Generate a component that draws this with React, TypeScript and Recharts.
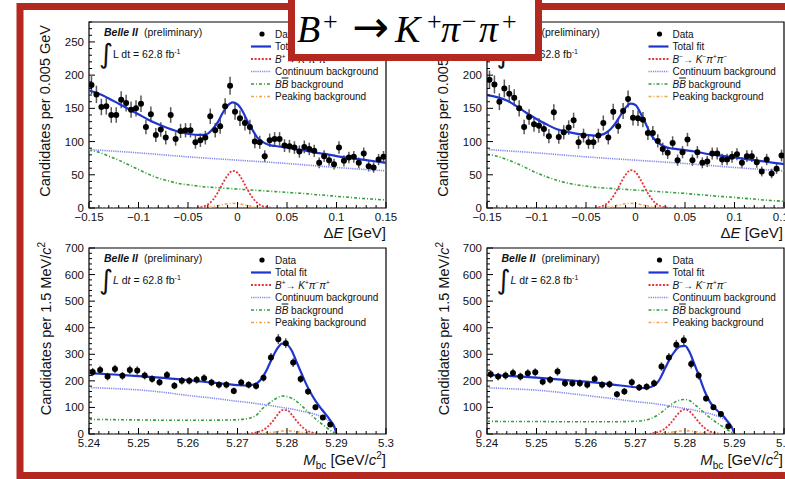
import React from 'react';
import { ComposedChart, Line, Scatter, XAxis, YAxis, ErrorBar, ReferenceArea } from 'recharts';

const FONT = '"Liberation Sans", Arial, Helvetica, sans-serif';
const SERIF = '"Liberation Serif", "Times New Roman", serif';
const RED = '#b3281f';

// ---------- axis tick labels ----------
const dEMajor = [-0.15, -0.1, -0.05, 0, 0.05, 0.1, 0.15];
const dELabels = ['\u22120.15', '\u22120.1', '\u22120.05', '0', '0.05', '0.1', '0.15'];
const mbcMajor = [5.24, 5.25, 5.26, 5.27, 5.28, 5.29, 5.3];
const mbcLabels = ['5.24', '5.25', '5.26', '5.27', '5.28', '5.29', '5.3'];
const topYMajor = [0, 50, 100, 150, 200, 250];
const topYLabels = ['0', '50', '100', '150', '200', '250'];
const botYMajor = [0, 100, 200, 300, 400, 500, 600, 700];
const botYLabels = ['0', '100', '200', '300', '400', '500', '600', '700'];

// ---------- histogram bin centres ----------
const dEBins = [
  -0.1475, -0.1425, -0.1375, -0.1325, -0.1275, -0.1225, -0.1175, -0.1125, -0.1075, -0.1025,
  -0.0975, -0.0925, -0.0875, -0.0825, -0.0775, -0.0725, -0.0675, -0.0625, -0.0575, -0.0525,
  -0.0475, -0.0425, -0.0375, -0.0325, -0.0275, -0.0225, -0.0175, -0.0125, -0.0075, -0.0025,
  0.0025, 0.0075, 0.0125, 0.0175, 0.0225, 0.0275, 0.0325, 0.0375, 0.0425, 0.0475,
  0.0525, 0.0575, 0.0625, 0.0675, 0.0725, 0.0775, 0.0825, 0.0875, 0.0925, 0.0975,
  0.1025, 0.1075, 0.1125, 0.1175, 0.1225, 0.1275, 0.1325, 0.1375, 0.1425, 0.1475,
];
const mbcBins = [
  5.24075, 5.24225, 5.24375, 5.24525, 5.24675, 5.24825, 5.24975, 5.25125, 5.25275, 5.25425,
  5.25575, 5.25725, 5.25875, 5.26025, 5.26175, 5.26325, 5.26475, 5.26625, 5.26775, 5.26925,
  5.27075, 5.27225, 5.27375, 5.27525, 5.27675, 5.27825, 5.27975, 5.28125, 5.28275, 5.28425,
  5.28575, 5.28725, 5.28875,
];

// ---------- data: counts and errors ----------
const p1Counts = [
  185, 171, 152, 153, 140, 140, 163, 158, 148, 150,
  157, 122, 141, 110, 118, 106, 140, 104, 116, 117,
  117, 99, 102, 106, 138, 117, 123, 153, 184, 145,
  135, 128, 122, 100, 99, 78, 102, 104, 104, 94,
  93, 91, 85, 92, 89, 86, 68, 78, 72, 66,
  91, 71, 76, 77, 68, 82, 63, 61, 73, 77,
];
const p1Errs = [
  13.6, 13.1, 12.3, 12.4, 11.8, 11.8, 12.8, 12.6, 12.2, 12.2,
  12.5, 11.0, 11.9, 10.5, 10.9, 10.3, 11.8, 10.2, 10.8, 10.8,
  10.8, 9.9, 10.1, 10.3, 11.7, 10.8, 11.1, 12.4, 13.6, 12.0,
  11.6, 11.3, 11.0, 10.0, 9.9, 8.8, 10.1, 10.2, 10.2, 9.7,
  9.6, 9.5, 9.2, 9.6, 9.4, 9.3, 8.2, 8.8, 8.5, 8.1,
  9.5, 8.4, 8.7, 8.8, 8.2, 9.1, 7.9, 7.8, 8.5, 8.8,
];
const p2Counts = [
  193, 186, 160, 180, 172, 166, 150, 122, 137, 126,
  124, 119, 108, 144, 107, 114, 121, 132, 99, 109,
  99, 99, 109, 128, 106, 145, 123, 146, 164, 136,
  135, 133, 113, 113, 101, 89, 83, 98, 72, 84,
  103, 72, 84, 68, 70, 82, 82, 73, 73, 77,
  81, 68, 78, 78, 69, 55, 73, 52, 59, 79,
];
const p2Errs = [
  13.9, 13.6, 12.6, 13.4, 13.1, 12.9, 12.2, 11.0, 11.7, 11.2,
  11.1, 10.9, 10.4, 12.0, 10.3, 10.7, 11.0, 11.5, 9.9, 10.4,
  9.9, 9.9, 10.4, 11.3, 10.3, 12.0, 11.1, 12.1, 12.8, 11.7,
  11.6, 11.5, 10.6, 10.6, 10.0, 9.4, 9.1, 9.9, 8.5, 9.2,
  10.1, 8.5, 9.2, 8.2, 8.4, 9.1, 9.1, 8.5, 8.5, 8.8,
  9.0, 8.2, 8.8, 8.8, 8.3, 7.4, 8.5, 7.2, 7.7, 8.9,
];
const p3Counts = [
  233, 241, 216, 245, 219, 241, 239, 220, 207, 195,
  222, 182, 200, 200, 204, 210, 194, 185, 185, 162,
  194, 185, 181, 212, 288, 357, 342, 269, 207, 160,
  101, 62, 36,
];
const p3Errs = [
  15.3, 15.5, 14.7, 15.7, 14.8, 15.5, 15.5, 14.8, 14.4, 14.0,
  14.9, 13.5, 14.1, 14.1, 14.3, 14.5, 13.9, 13.6, 13.6, 12.7,
  13.9, 13.6, 13.5, 14.6, 17.0, 18.9, 18.5, 16.4, 14.4, 12.6,
  10.0, 7.9, 6.0,
];
const p4Counts = [
  225, 216, 220, 230, 216, 229, 232, 197, 204, 235,
  191, 191, 191, 185, 207, 185, 187, 150, 160, 195,
  175, 178, 191, 254, 288, 336, 353, 263, 220, 134,
  101, 75, 29,
];
const p4Errs = [
  15.0, 14.7, 14.8, 15.2, 14.7, 15.1, 15.2, 14.0, 14.3, 15.3,
  13.8, 13.8, 13.8, 13.6, 14.4, 13.6, 13.7, 12.2, 12.6, 14.0,
  13.2, 13.3, 13.8, 15.9, 17.0, 18.3, 18.8, 16.2, 14.8, 11.6,
  10.0, 8.7, 5.4,
];

// ---------- fit curves ----------
const dEGrid = [
  -0.15, -0.14, -0.13, -0.12, -0.11, -0.1, -0.09, -0.08, -0.07, -0.06, -0.05, -0.04,
  -0.035, -0.03, -0.025, -0.02, -0.015, -0.01, -0.005, 0, 0.005, 0.01, 0.015, 0.02, 0.025, 0.03, 0.035,
  0.04, 0.05, 0.06, 0.07, 0.08, 0.09, 0.1, 0.11, 0.12, 0.13, 0.14, 0.15,
];
const dEContGrid = [-0.15, -0.1, -0.05, 0, 0.05, 0.1, 0.15];

const p1Total = [
  177, 172, 165, 157, 149, 141, 133, 126, 120, 115, 112, 110,
  110, 112, 119, 129, 143, 154, 159, 156, 146, 131, 118, 106, 100, 96, 94,
  93, 91, 88, 86, 83, 81, 78, 76, 74, 72, 70, 68,
];
const p1Cont = [88, 83, 77, 72, 67, 61, 56];
const p1BB = [
  87, 84, 78, 72, 65, 58, 51, 45, 41, 37, 35, 33,
  32, 31.5, 31, 30.5, 30, 29.5, 29, 28.5, 28, 27.5, 27, 26.5, 26, 25.5, 25,
  24.5, 23.5, 22.5, 21.5, 20, 19, 17.5, 16.5, 15, 14, 13, 12,
];
const p1Sig = [
  0, 0, 0, 0, 0, 0, 0, 0, 0, 0, 0, 0.6,
  2, 5.4, 12, 23, 37, 49, 56, 53, 42, 28, 16, 7.6, 3, 1, 0.3,
  0.1, 0, 0, 0, 0, 0, 0, 0, 0, 0, 0, 0,
];
const p1Peak = [
  0, 0, 0, 0, 0, 0, 0, 0, 0, 0, 0, 0,
  0.3, 0.8, 1.8, 3.3, 5, 6.4, 7, 6.6, 5.3, 3.7, 2.2, 1.1, 0.5, 0.2, 0.1,
  0, 0, 0, 0, 0, 0, 0, 0, 0, 0, 0, 0,
];

const p2Total = [
  170, 167, 162, 153, 143, 134, 126, 119, 115, 112, 110, 109,
  110, 113, 119, 128, 140, 151, 157, 155, 143, 128, 112, 102, 96, 92, 90,
  89, 87, 85, 82, 80, 78, 76, 74, 72, 70, 68, 66,
];
const p2Cont = [88, 83, 77, 72, 67, 61, 56];
const p2BB = [
  81, 78, 73, 67, 60, 53, 47, 42, 38, 35, 33, 31,
  30.5, 30, 29.5, 29, 28.5, 28, 27.5, 27, 26.5, 26, 25.5, 25, 24.5, 24, 23.5,
  23, 22, 20.5, 19.5, 18, 17, 16, 14.5, 13.5, 12, 11, 10,
];
const p2Sig = [
  0, 0, 0, 0, 0, 0, 0, 0, 0, 0, 0, 0.6,
  2, 5.5, 12.3, 23.5, 37.5, 50, 57, 54, 43, 29, 16.3, 7.7, 3, 1, 0.3,
  0.1, 0, 0, 0, 0, 0, 0, 0, 0, 0, 0, 0,
];
const p2Peak = [
  0, 0, 0, 0, 0, 0, 0, 0, 0, 0, 0, 0,
  0.3, 0.8, 1.8, 3.3, 5, 6.4, 7, 6.6, 5.3, 3.7, 2.2, 1.1, 0.5, 0.2, 0.1,
  0, 0, 0, 0, 0, 0, 0, 0, 0, 0, 0, 0,
];

const mbcGrid = [
  5.24, 5.245, 5.25, 5.255, 5.26, 5.265, 5.27, 5.272, 5.274,
  5.275, 5.276, 5.277, 5.278, 5.279, 5.28, 5.281, 5.282, 5.283, 5.284, 5.285, 5.286, 5.287, 5.288,
  5.2885, 5.289, 5.2895, 5.29,
];
const p3Total = [
  229, 224, 218, 211, 203, 193, 184, 182, 192,
  212, 245, 285, 320, 340, 337, 312, 268, 225, 183, 148, 118, 93, 70,
  58, 45, 30, 0,
];
const p3Cont = [
  175, 171, 166, 157, 145, 135, 123, 119, 114,
  112, 109, 106, 103, 100, 97, 94, 90, 86, 82, 78, 72, 65, 56,
  47, 38, 25, 0,
];
const p3BB = [
  55, 54, 53, 52, 52, 52, 54, 58, 74,
  95, 110, 124, 136, 143, 141, 134, 122, 106, 88, 70, 53, 38, 24,
  17, 11, 5, 0,
];
const p3Sig = [
  0, 0, 0, 0, 0, 0, 0, 1, 7,
  13, 26, 45, 70, 90, 90, 72, 48, 28, 13, 6, 2, 0, 0,
  0, 0, 0, 0,
];
const p3Peak = [
  0, 0, 0, 0, 0, 0, 0, 0, 1,
  2, 4, 6, 9, 11, 12, 11, 9, 6, 4, 2, 1, 0, 0,
  0, 0, 0, 0,
];
const p4Total = [
  222, 218, 212, 205, 197, 187, 176, 173, 185,
  210, 248, 285, 313, 330, 332, 305, 258, 210, 160, 122, 98, 80, 62,
  50, 38, 24, 0,
];
const p4Cont = [
  174, 170, 165, 156, 145, 134, 122, 118, 114,
  111, 108, 105, 102, 99, 96, 93, 89, 85, 81, 77, 71, 64, 55,
  46, 37, 24, 0,
];
const p4BB = [
  48, 47, 47, 46, 46, 46, 48, 52, 66,
  78, 93, 108, 120, 128, 130, 125, 110, 95, 78, 62, 48, 35, 23,
  17, 11, 5, 0,
];
const p4Sig = [
  0, 0, 0, 0, 0, 0, 0, 0, 5,
  10, 21, 38, 62, 84, 93, 84, 63, 40, 22, 10, 4, 1, 0,
  0, 0, 0, 0,
];
const p4Peak = [
  0, 0, 0, 0, 0, 0, 0, 0, 1,
  2, 4, 6, 9, 11, 12, 11, 9, 6, 4, 2, 1, 0, 0,
  0, 0, 0, 0,
];

// ---------- styling ----------
const C_TOTAL = '#1f35d0';
const C_SIG = '#e3353b';
const C_CONT = '#7f86ec';
const C_BB = '#35a03c';
const C_PEAK = '#f4a24c';

const PW = 297, PH = 186, YW = 50, MT = 8, MR = 24, XH = 30;

function steps(a: number, b: number, n: number) {
  const out: number[] = [];
  for (let i = 0; i <= n; i++) out.push(+(a + ((b - a) * i) / n).toFixed(6));
  return out;
}
const findMajor = (arr: number[], v: number) => arr.findIndex((m) => Math.abs(m - v) < 1e-7);

function XTick(props: any) {
  const { x, y, payload, major, labels } = props;
  const idx = findMajor(major, payload.value);
  const isMaj = idx >= 0;
  return (
    <g>
      <line x1={x} x2={x} y1={y} y2={y - (isMaj ? 6 : 3)} stroke="#000" strokeWidth={1} />
      {isMaj && (
        <text x={x} y={y + 13} textAnchor="middle" fontSize={11.5} fontFamily={FONT} fill="#111">
          {labels[idx]}
        </text>
      )}
    </g>
  );
}
function YTick(props: any) {
  const { x, y, payload, major, labels } = props;
  const idx = findMajor(major, payload.value);
  const isMaj = idx >= 0;
  return (
    <g>
      <line x1={x} x2={x + (isMaj ? 6 : 3)} y1={y} y2={y} stroke="#000" strokeWidth={1} />
      {isMaj && (
        <text x={x - 5} y={y + 4} textAnchor="end" fontSize={11.5} fontFamily={FONT} fill="#111">
          {labels[idx]}
        </text>
      )}
    </g>
  );
}

const Dot = (p: any) => <circle cx={p.cx} cy={p.cy} r={3} fill="#000" />;

function Panel(props: any) {
  const {
    plotLeft, plotTop, xDomain, yDomain, xTicks, yTicks, xMajor, xLabels, yMajor, yLabels,
    binX, counts, errs, fitX, total, sig, bb, peak, contX, cont,
  } = props;
  const pts = binX.map((x: number, i: number) => ({ x, y: counts[i], e: errs[i] }));
  const mk = (xs: number[], ys: number[]) => xs.map((x, i) => ({ x, y: ys[i] }));
  const common = { dataKey: 'y', type: 'monotone' as const, dot: false, activeDot: false, isAnimationActive: false };
  return (
    <div style={{ position: 'absolute', left: plotLeft - YW, top: plotTop - MT }}>
      <ComposedChart width={YW + PW + MR} height={MT + PH + XH} margin={{ top: MT, right: MR, bottom: 0, left: 0 }}>
        <XAxis
          type="number" dataKey="x" domain={xDomain} ticks={xTicks} interval={0} allowDataOverflow
          axisLine={false} tickLine={false} tickSize={0} tickMargin={0} height={XH}
          tick={(p: any) => <XTick {...p} major={xMajor} labels={xLabels} />}
        />
        <YAxis
          type="number" domain={yDomain} ticks={yTicks} interval={0} allowDataOverflow
          axisLine={false} tickLine={false} tickSize={0} tickMargin={0} width={YW}
          tick={(p: any) => <YTick {...p} major={yMajor} labels={yLabels} />}
        />
        <ReferenceArea
          x1={xDomain[0]} x2={xDomain[1]} y1={yDomain[0]} y2={yDomain[1]}
          fill="none" fillOpacity={0} stroke="#000" strokeWidth={1.2} ifOverflow="visible"
        />
        <Scatter data={pts} dataKey="y" isAnimationActive={false} shape={Dot}>
          <ErrorBar dataKey="e" direction="y" width={0} stroke="#5a5a5a" strokeWidth={1.5} />
        </Scatter>
        <Line {...common} data={mk(fitX, peak)} stroke={C_PEAK} strokeWidth={1.6} strokeDasharray="3 2 1 2" />
        <Line {...common} data={mk(fitX, bb)} stroke={C_BB} strokeWidth={1.6} strokeDasharray="3 2 1 2" />
        <Line {...common} data={mk(contX, cont)} stroke={C_CONT} strokeWidth={1.6} strokeDasharray="1.2 1" />
        <Line {...common} data={mk(fitX, sig)} stroke={C_SIG} strokeWidth={1.8} strokeDasharray="2 1.6" />
        <Line {...common} data={mk(fitX, total)} stroke={C_TOTAL} strokeWidth={2.2} />
      </ComposedChart>
    </div>
  );
}

function LegendBlock({ ox, oy, minus }: { ox: number; oy: number; minus: boolean }) {
  const s1 = minus ? '\u2212' : '+';
  const s2 = minus ? '+' : '\u2212';
  const rows = [0, 1, 2, 3, 4, 5].map((i) => oy + i * 12.5);
  const lx1 = ox - 24, lx2 = ox - 4;
  const t = { fontSize: 10, fontFamily: FONT, fill: '#111' };
  return (
    <g>
      <circle cx={ox - 13} cy={rows[0]} r={2.6} fill="#000" />
      <line x1={lx1} x2={lx2} y1={rows[1]} y2={rows[1]} stroke={C_TOTAL} strokeWidth={2.2} />
      <line x1={lx1} x2={lx2} y1={rows[2]} y2={rows[2]} stroke={C_SIG} strokeWidth={1.8} strokeDasharray="2 1.6" />
      <line x1={lx1} x2={lx2} y1={rows[3]} y2={rows[3]} stroke={C_CONT} strokeWidth={1.6} strokeDasharray="1.2 1" />
      <line x1={lx1} x2={lx2} y1={rows[4]} y2={rows[4]} stroke={C_BB} strokeWidth={1.6} strokeDasharray="3 2 1 2" />
      <line x1={lx1} x2={lx2} y1={rows[5]} y2={rows[5]} stroke={C_PEAK} strokeWidth={1.6} strokeDasharray="3 2 1 2" />
      <text x={ox} y={rows[0] + 3.5} {...t}>Data</text>
      <text x={ox} y={rows[1] + 3.5} {...t}>Total fit</text>
      <text x={ox} y={rows[2] + 3.5} {...t}>
        <tspan fontStyle="italic">B</tspan>
        <tspan dy={-4} fontSize={6.5}>{s1}</tspan>
        <tspan dy={4}>{'\u2192 '}</tspan>
        <tspan fontStyle="italic">K</tspan>
        <tspan dy={-4} fontSize={6.5}>{s1}</tspan>
        <tspan dy={4} fontStyle="italic">{'\u03c0'}</tspan>
        <tspan dy={-4} fontSize={6.5}>{s2}</tspan>
        <tspan dy={4} fontStyle="italic">{'\u03c0'}</tspan>
        <tspan dy={-4} fontSize={6.5}>{s1}</tspan>
      </text>
      <text x={ox} y={rows[3] + 3.5} {...t}>Continuum background</text>
      <text x={ox} y={rows[4] + 3.5} {...t}>
        <tspan fontStyle="italic">B</tspan>
        <tspan fontStyle="italic" textDecoration="overline">B</tspan>
        <tspan> background</tspan>
      </text>
      <text x={ox} y={rows[5] + 3.5} {...t}>Peaking background</text>
    </g>
  );
}

function BelleBlock({ ox, oy, italicL }: { ox: number; oy: number; italicL: boolean }) {
  return (
    <g fontFamily={FONT} fill="#111">
      <text x={ox} y={oy} fontSize={10.5}>
        <tspan fontWeight="bold" fontStyle="italic">Belle II</tspan>
        <tspan x={ox + 40}>(preliminary)</tspan>
      </text>
      <text x={ox - 5} y={oy + 27} fontSize={27} fontFamily='"DejaVu Sans", sans-serif'>{'\u222b'}</text>
      <text x={ox + 9} y={oy + 22} fontSize={10.5}>
        <tspan fontStyle={italicL ? 'italic' : 'normal'}>L</tspan>
        <tspan> d</tspan>
        <tspan fontStyle={italicL ? 'italic' : 'normal'}>t</tspan>
        <tspan> = 62.8 fb</tspan>
        <tspan dy={-4} fontSize={7}>-1</tspan>
      </text>
    </g>
  );
}

function YTitle({ x, y, top }: { x: number; y: number; top: boolean }) {
  return (
    <text transform={`translate(${x},${y}) rotate(-90)`} textAnchor="end" fontSize={14.5} fontFamily={FONT} fill="#111">
      {top ? (
        'Candidates per 0.005 GeV'
      ) : (
        <>
          <tspan>Candidates per 1.5 MeV/</tspan>
          <tspan fontStyle="italic">c</tspan>
          <tspan dy={-6} fontSize={10}>2</tspan>
        </>
      )}
    </text>
  );
}

function XTitle({ x, y, top }: { x: number; y: number; top: boolean }) {
  return (
    <text x={x} y={y} textAnchor="end" fontSize={15} fontFamily={FONT} fill="#111">
      {top ? (
        <>
          <tspan>{'\u0394'}</tspan>
          <tspan fontStyle="italic">E</tspan>
          <tspan> [GeV]</tspan>
        </>
      ) : (
        <>
          <tspan fontStyle="italic">M</tspan>
          <tspan dy={4} fontSize={10}>bc</tspan>
          <tspan dy={-4}> [GeV/</tspan>
          <tspan fontStyle="italic">c</tspan>
          <tspan dy={-6} fontSize={10}>2</tspan>
          <tspan dy={6}>]</tspan>
        </>
      )}
    </text>
  );
}

export default function App() {
  const dETicks = steps(-0.15, 0.15, 30);
  const mbcTicks = steps(5.24, 5.3, 30);
  const topYTicks = steps(0, 280, 28);
  const botYTicks = steps(0, 700, 35);
  const topCommon = {
    xDomain: [-0.15, 0.15], yDomain: [0, 280], xTicks: dETicks, yTicks: topYTicks,
    xMajor: dEMajor, xLabels: dELabels, yMajor: topYMajor, yLabels: topYLabels,
    binX: dEBins, fitX: dEGrid, contX: dEContGrid,
  };
  const botCommon = {
    xDomain: [5.24, 5.3], yDomain: [0, 700], xTicks: mbcTicks, yTicks: botYTicks,
    xMajor: mbcMajor, xLabels: mbcLabels, yMajor: botYMajor, yLabels: botYLabels,
    binX: mbcBins, fitX: mbcGrid, contX: mbcGrid,
  };
  const DX = 397.5;
  return (
    <div style={{ position: 'absolute', left: 0, top: 0, width: 785, height: 479, overflow: 'hidden', background: '#fff' }}>
      <Panel {...topCommon} plotLeft={89} plotTop={22} counts={p1Counts} errs={p1Errs}
        total={p1Total} sig={p1Sig} bb={p1BB} peak={p1Peak} cont={p1Cont} />
      <Panel {...topCommon} plotLeft={487} plotTop={22} counts={p2Counts} errs={p2Errs}
        total={p2Total} sig={p2Sig} bb={p2BB} peak={p2Peak} cont={p2Cont} />
      <Panel {...botCommon} plotLeft={89} plotTop={248} counts={p3Counts} errs={p3Errs}
        total={p3Total} sig={p3Sig} bb={p3BB} peak={p3Peak} cont={p3Cont} />
      <Panel {...botCommon} plotLeft={487} plotTop={248} counts={p4Counts} errs={p4Errs}
        total={p4Total} sig={p4Sig} bb={p4BB} peak={p4Peak} cont={p4Cont} />
      <svg width={785} height={479} style={{ position: 'absolute', left: 0, top: 0, pointerEvents: 'none' }}>
        <YTitle x={50} y={25} top />
        <YTitle x={50 + DX} y={25} top />
        <YTitle x={51} y={242} top={false} />
        <YTitle x={51 + DX} y={242} top={false} />
        <XTitle x={386} y={238} top />
        <XTitle x={783} y={238} top />
        <XTitle x={386} y={465} top={false} />
        <XTitle x={783} y={465} top={false} />
        <BelleBlock ox={104} oy={35.5} italicL={false} />
        <BelleBlock ox={104 + DX} oy={35.5} italicL={false} />
        <BelleBlock ox={104} oy={262} italicL />
        <BelleBlock ox={104 + DX} oy={262} italicL />
        <LegendBlock ox={275} oy={34} minus={false} />
        <LegendBlock ox={275 + DX} oy={34} minus />
        <LegendBlock ox={275} oy={260} minus={false} />
        <LegendBlock ox={275 + DX} oy={260} minus />
        {/* red frame */}
        <rect x={20} y={6.5} width={800} height={469} fill="none" stroke={RED} strokeWidth={7} />
        {/* title box */}
        <rect x={291.5} y={-10} width={247} height={67.5} fill="#fff" stroke={RED} strokeWidth={7} />
        <text fontFamily={SERIF} fill="#000" fontSize={38}>
          <tspan x={297} y={42} fontStyle="italic">B</tspan>
          <tspan x={323} y={30} fontSize={26}>+</tspan>
          <tspan x={352} y={42} fontSize={44} fontFamily='"DejaVu Sans", sans-serif'>{'\u2192'}</tspan>
          <tspan x={395} y={42} fontStyle="italic">K</tspan>
          <tspan x={427} y={30} fontSize={26}>+</tspan>
          <tspan x={441} y={42} fontStyle="italic">{'\u03c0'}</tspan>
          <tspan x={462} y={30} fontSize={26}>{'\u2212'}</tspan>
          <tspan x={479} y={42} fontStyle="italic">{'\u03c0'}</tspan>
          <tspan x={502} y={30} fontSize={26}>+</tspan>
        </text>
      </svg>
    </div>
  );
}
